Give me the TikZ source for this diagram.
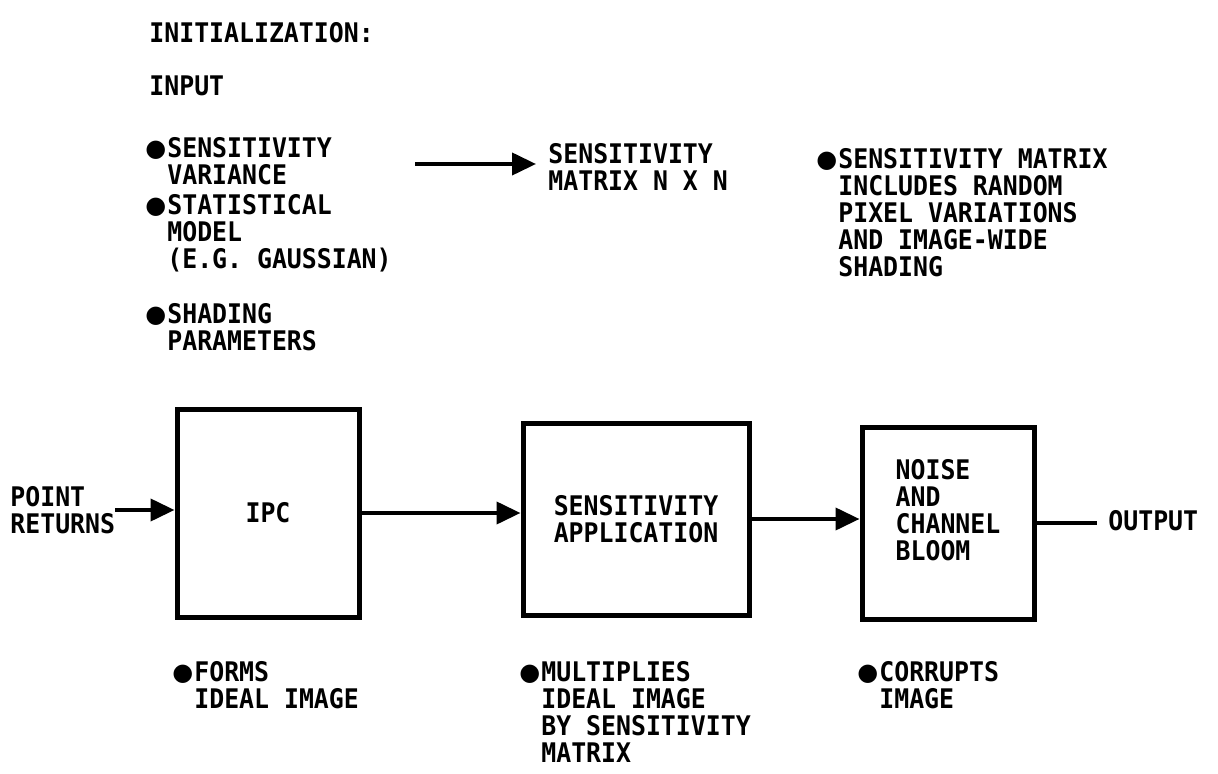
\documentclass[tikz,border=0pt]{standalone}
\usepackage{fontspec}
\setmainfont{DejaVu Sans Mono}[FakeStretch=0.92]
\newfontfamily\dotfont{DejaVu Sans}
\usetikzlibrary{positioning, arrows.meta, calc}
\newcommand{\dotmark}{{\dotfont\fontsize{12}{12}\selectfont\raisebox{0.6pt}{●}}\kern0.5pt}
\newcommand{\dotskip}{\hphantom{\dotmark}}
\tikzstyle{txt} = [font=\bfseries\fontsize{13.5}{13.5}\selectfont, align=left, inner sep=0pt]
\tikzstyle{block} = [txt, draw, line width=2.5pt, align=center]
\tikzstyle{arrow} = [line width=2pt, -{Triangle[length=12pt,width=11pt]}]
\tikzstyle{wire} = [line width=2pt]

\begin{document}
\begin{tikzpicture}[x=0.5pt, y=-0.5pt]
    \useasboundingbox[fill=white] (0,0) rectangle (1218,774);

    % Heading
    \node[txt, anchor=west] (init) at (149,33) {INITIALIZATION:};
    \node[txt, anchor=west] (input) at (149,86) {INPUT};

    % Input parameters
    \node[txt, anchor=north west] (var) at (145,137) {\dotmark SENSITIVITY\\\dotskip VARIANCE};
    \node[txt, anchor=north west] (model) at (145,194) {\dotmark STATISTICAL\\\dotskip MODEL\\\dotskip (E.G. GAUSSIAN)};
    \node[txt, anchor=north west] (shade) at (145,303) {\dotmark SHADING\\\dotskip PARAMETERS};

    % Sensitivity matrix
    \coordinate (ain) at (415,164);
    \node[txt, anchor=north west] (matrix) at (548,143) {SENSITIVITY\\MATRIX N X N};
    \draw[arrow] (ain) -- ([xshift=-6pt]ain -| matrix.west);
    \node[txt, anchor=north west] (incl) at (816,148) {\dotmark SENSITIVITY MATRIX\\\dotskip INCLUDES RANDOM\\\dotskip PIXEL VARIATIONS\\\dotskip AND IMAGE-WIDE\\\dotskip SHADING};

    % Processing chain
    \node[block, minimum width=91pt, minimum height=104pt] (ipc) at (268,513) {IPC};
    \node[block, minimum width=113pt, minimum height=96pt] (sens) at (636,519) {SENSITIVITY\\APPLICATION};
    \node[block, minimum width=86pt, minimum height=96pt, align=left, text depth=13pt] (noise) at (948,523) {NOISE\\AND\\CHANNEL\\BLOOM};

    \node[txt, anchor=west] (pts) at (10,510) {POINT\\RETURNS};
    \node[txt, anchor=west] (out) at (1108,521) {OUTPUT};

    \draw[arrow] (pts.east) -- (pts.east -| ipc.west);
    \draw[arrow] (ipc.east) -- (ipc.east -| sens.west);
    \draw[arrow] (sens.east) -- (sens.east -| noise.west);
    \draw[wire] (noise.east) -- ([xshift=-5.5pt]noise.east -| out.west);

    % Block notes
    \node[txt, anchor=north west] (forms) at (172,661) {\dotmark FORMS\\\dotskip IDEAL IMAGE};
    \node[txt, anchor=north west] (mult) at (519,661) {\dotmark MULTIPLIES\\\dotskip IDEAL IMAGE\\\dotskip BY SENSITIVITY\\\dotskip MATRIX};
    \node[txt, anchor=north west] (corr) at (857,661) {\dotmark CORRUPTS\\\dotskip IMAGE};
\end{tikzpicture}
\end{document}
